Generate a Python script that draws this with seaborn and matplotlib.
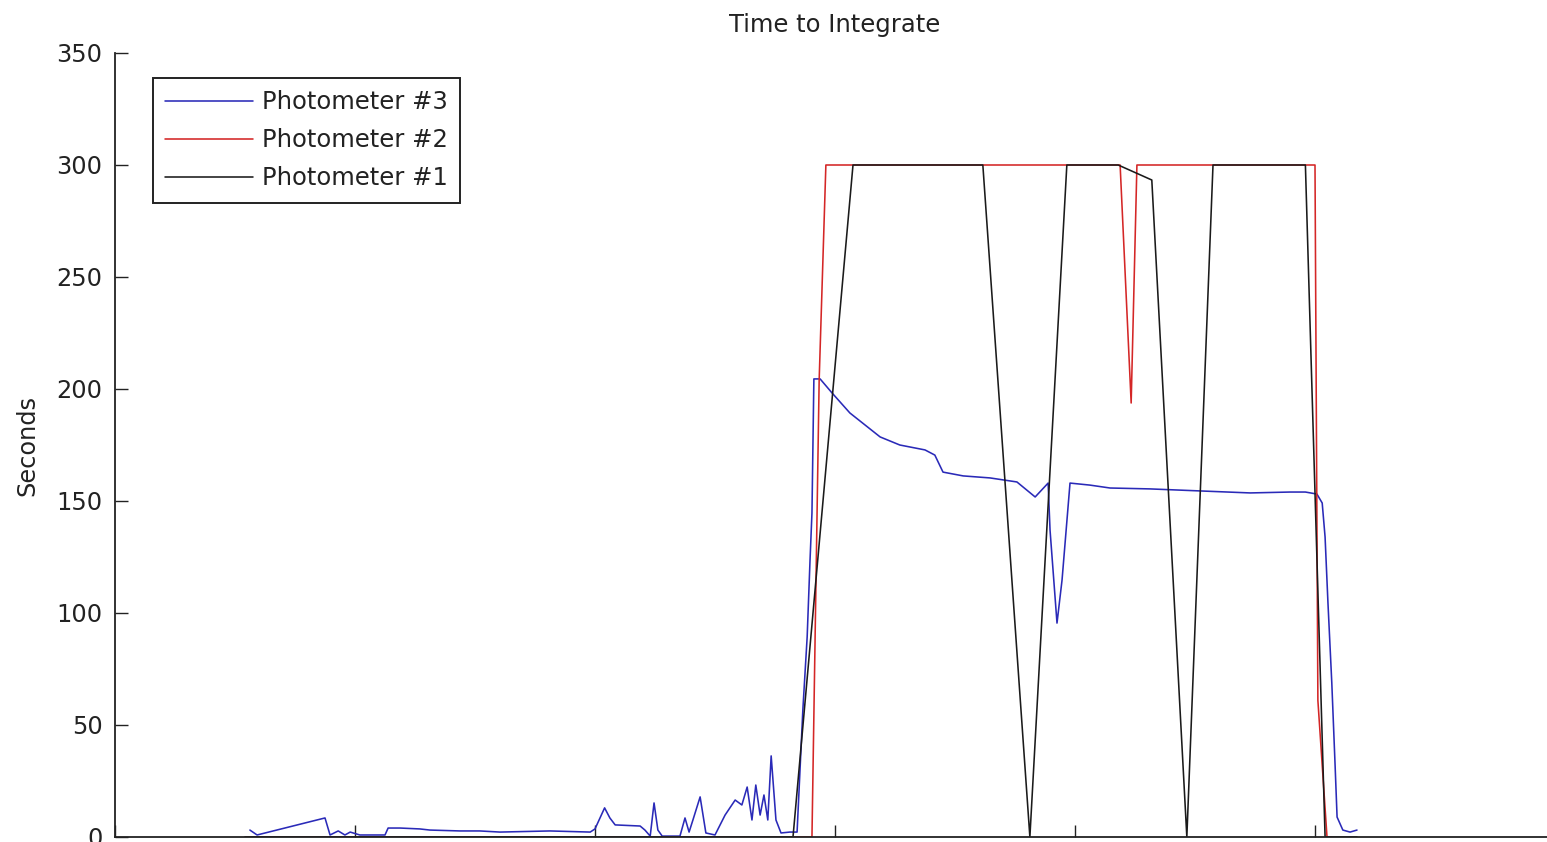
import matplotlib
matplotlib.use('Agg')
import matplotlib.pyplot as plt
import seaborn as sns

# Photometer #3 (blue)
p3_x = [28.1, 29.6, 43.75, 44.8, 46.5, 47.9, 49.0, 51.0, 56.25, 56.9, 59.4, 63.5, 65.6,
        71.9, 76.0, 80.2, 90.6, 99.0, 100.0, 102.0, 103.1, 104.2, 109.4, 110.4, 111.5,
        112.3, 113.1, 114.0, 117.7, 118.75, 119.6, 120.4, 121.9, 123.1, 125.0, 127.1,
        129.2, 130.6, 131.7, 132.7, 133.5, 134.4, 135.2, 136.0, 136.7, 137.7, 138.75,
        140.6, 142.1, 143.3, 144.2, 144.8, 145.2, 145.6, 146.9, 149.4, 153.1, 159.4,
        163.5, 168.75, 170.8, 172.5, 176.7, 182.3, 187.9, 191.7, 194.4, 194.8, 196.25,
        197.3, 198.96, 203.1, 207.3, 215.6, 226.0, 236.5, 244.8, 248.0, 250.4, 251.5,
        252.1, 252.7, 253.5, 254.2, 254.6, 255.8, 257.3, 258.75]
p3_y = [3.1, 0.9, 8.5, 0.9, 2.7, 0.9, 2.2, 0.9, 0.9, 4.0, 4.0, 3.6, 3.1,
        2.7, 2.7, 2.2, 2.7, 2.2, 3.6, 13.0, 8.5, 5.4, 4.9, 3.1, 0.4,
        15.2, 3.1, 0.4, 0.4, 8.5, 2.2, 7.6, 17.9, 1.8, 0.9, 9.8,
        16.5, 14.3, 22.3, 7.6, 23.2, 9.8, 18.75, 7.6, 36.2, 7.6, 1.8,
        2.2, 2.2, 56.7, 89.3, 123.7, 144.6, 204.5, 204.5, 198.2, 189.3, 178.6,
        175.0, 172.8, 170.5, 162.9, 161.2, 160.3, 158.5, 151.8, 158.0, 137.0, 95.5,
        114.7, 158.0, 157.1, 155.8, 155.4, 154.5, 153.6, 154.0, 154.0, 153.1, 149.1,
        133.9, 104.5, 68.75, 31.25, 8.9, 3.1, 2.2, 3.1]

# Photometer #2 (red)
p2_x = [27.1, 145.2, 146.7, 148.1, 209.4, 211.7, 212.9, 250.0, 250.6, 252.5, 253.5]
p2_y = [0, 0, 204, 300, 300, 193.75, 300, 300, 61, 0, 0]

# Photometer #1 (black)
p1_x = [27.1, 141.25, 153.75, 180.8, 190.6, 198.3, 209.0, 216.0, 223.3, 228.75, 248.0, 252.1, 258.75]
p1_y = [0, 0, 300, 300, 0, 300, 300, 293.3, 0, 300, 300, 0, 0]

series = [('Photometer #3', p3_x, p3_y, '#2a2ab8'),
          ('Photometer #2', p2_x, p2_y, '#d42626'),
          ('Photometer #1', p1_x, p1_y, '#1a1a1a')]

sns.set_style('white')
plt.rcParams['font.family'] = ['DejaVu Sans']

fig = plt.figure(figsize=(15.47, 8.42), dpi=100)
ax = fig.add_axes([115 / 1547, 5 / 842, 1440 / 1547, 784 / 842])

for name, xs, ys, col in series:
    sns.lineplot(x=xs, y=ys, color=col, linewidth=1.15, sort=False,
                 estimator=None, label=name, ax=ax)

ax.set_xlim(0, 300)
ax.set_ylim(0, 350)
ax.set_xticks([0, 50, 100, 150, 200, 250, 300])
ax.set_yticks([0, 50, 100, 150, 200, 250, 300, 350])
ax.tick_params(axis='both', direction='in', length=9, width=1.0, color='#222222',
               labelsize=17.3, labelcolor='#222222', pad=9)
ax.tick_params(axis='x', labelbottom=False)
ax.tick_params(left=True, bottom=True)

for s in ['top', 'right']:
    ax.spines[s].set_visible(False)
for s in ['left', 'bottom']:
    ax.spines[s].set_color('#222222')
    ax.spines[s].set_linewidth(1.3)

ax.set_title('Time to Integrate', fontsize=17.5, color='#222222', pad=15)
ax.set_ylabel('Seconds', fontsize=17.3, color='#222222', labelpad=12)

leg = ax.legend(loc='upper left', bbox_to_anchor=(0.0264, 0.968), borderaxespad=0,
                fontsize=17.5, handlelength=3.6, handletextpad=0.37,
                labelspacing=0.58, borderpad=0.5, fancybox=False,
                framealpha=1, edgecolor='#222222')
leg.get_frame().set_linewidth(1.4)
for t in leg.get_texts():
    t.set_color('#222222')

fig.savefig('out.png', dpi=100)
